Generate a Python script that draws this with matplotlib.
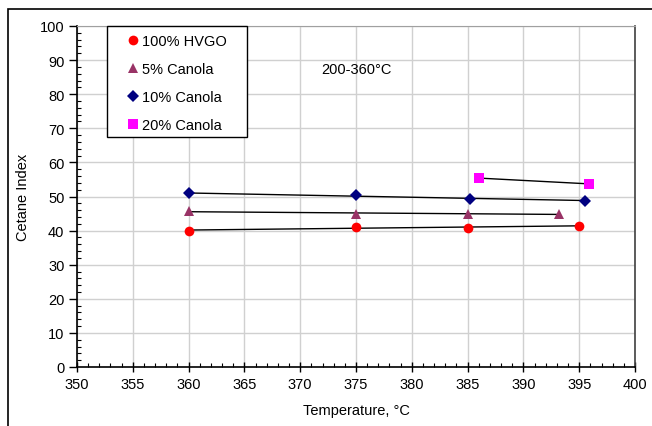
import numpy as np
import matplotlib
matplotlib.use("Agg")
import matplotlib.pyplot as plt
from matplotlib.patches import Rectangle
from matplotlib.ticker import MultipleLocator

plt.rcParams['font.family'] = ['Liberation Sans', 'DejaVu Sans']

# cetane index vs reactor temperature, one series per feed
series_names = ["100% HVGO", "5% Canola", "10% Canola", "20% Canola"]
temp_hvgo = [360, 375, 385, 395]
ci_hvgo = [40.0, 41.1, 40.8, 41.4]
temp_5 = [360, 375, 385, 393.2]
ci_5 = [45.7, 44.9, 44.9, 44.9]
temp_10 = [360, 375, 385.2, 395.5]
ci_10 = [50.9, 50.4, 49.3, 48.8]
temp_20 = [386, 395.9]
ci_20 = [55.4, 53.7]

styles = [
    dict(marker="o", color="#ff0000", ms=7),
    dict(marker="^", color="#993366", ms=7.5),
    dict(marker="D", color="#000080", ms=6),
    dict(marker="s", color="#ff00ff", ms=6.5),
]

W, H = 652, 427
fig = plt.figure(figsize=(W / 100, H / 100), dpi=100)
ax = fig.add_axes([77 / W, 1 - 368 / H, 558 / W, 341 / H])

# chart frame around everything (runs off the right and bottom edges)
top = 1 - 9.5 / H
fig.patches.append(Rectangle((7.5 / W, -0.2), 1.2, top + 0.2,
                             transform=fig.transFigure, fill=False,
                             edgecolor="black", linewidth=1.2))

data = [(temp_hvgo, ci_hvgo), (temp_5, ci_5), (temp_10, ci_10), (temp_20, ci_20)]
for (t, ci), name, st in zip(data, series_names, styles):
    t = np.array(t)
    ci = np.array(ci)
    # linear trend line across the data range
    k, b = np.polyfit(t, ci, 1)
    tt = np.array([t.min(), t.max()])
    ax.plot(tt, k * tt + b, color="black", lw=1.0, zorder=2)
    ax.plot(t, ci, linestyle="none", marker=st["marker"], color=st["color"],
            markersize=st["ms"], markeredgewidth=0, label=name, zorder=3)

ax.set_xlim(350, 400)
ax.set_ylim(0, 100)
ax.xaxis.set_major_locator(MultipleLocator(5))
ax.xaxis.set_minor_locator(MultipleLocator(1))
ax.yaxis.set_major_locator(MultipleLocator(10))
ax.yaxis.set_minor_locator(MultipleLocator(2))
ax.grid(True, which="major", color="#d0d0d0", lw=1.0)
ax.set_axisbelow(True)

ax.tick_params(axis="x", which="major", direction="inout", length=7, width=1, labelsize=10.5, pad=4)
ax.tick_params(axis="y", which="major", direction="out", length=6, width=1, labelsize=10.5, pad=3)
ax.tick_params(which="minor", direction="in", length=3, width=0.8)

for side in ("left", "bottom"):
    ax.spines[side].set_linewidth(1.2)
    ax.spines[side].set_color("black")
ax.spines["top"].set_color("#a0a0a0")
ax.spines["right"].set_color("#404040")
ax.spines["right"].set_linewidth(1.2)

ax.set_xlabel("Temperature, °C", fontsize=10.5, labelpad=8)
ax.set_ylabel("Cetane Index", fontsize=10.5, labelpad=7)

ax.text(375, 87.5, "200-360°C", fontsize=10.5, ha="center", va="center")

# legend without its own frame; box drawn separately
to_ax = lambda px, py: ((px - 77) / 558, (368 - py) / 341)
leg = ax.legend(loc="upper left", bbox_to_anchor=to_ax(127, 35.5), frameon=False,
                fontsize=10.5, handlelength=0.8, handletextpad=0.25,
                labelspacing=0.95, borderpad=0, borderaxespad=0)
leg.set_zorder(6)
x0, y0 = to_ax(107, 138)
x1, y1 = to_ax(247, 27)
ax.add_patch(Rectangle((x0, y0), x1 - x0, y1 - y0, transform=ax.transAxes,
                       facecolor="white", edgecolor="black", lw=1.0,
                       zorder=5, clip_on=False))

fig.savefig("out.png", dpi=100)
